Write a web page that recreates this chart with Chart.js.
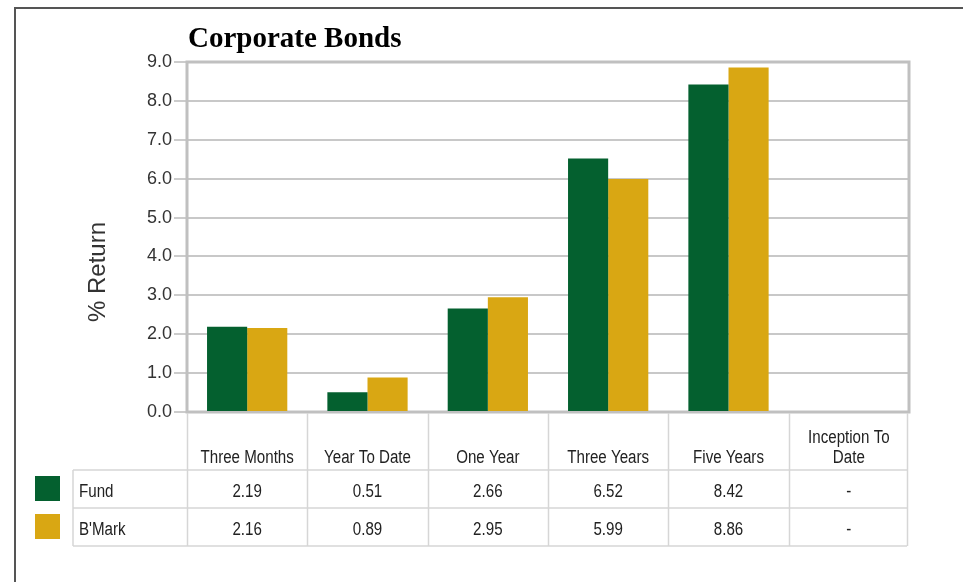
<!DOCTYPE html>
<html>
<head>
<meta charset="utf-8">
<title>Corporate Bonds</title>
<script src="https://cdn.jsdelivr.net/npm/chart.js@4"></script>
<style>
  html, body { margin: 0; padding: 0; background: #fff; }
  #wrap { position: relative; width: 963px; height: 582px; }
</style>
</head>
<body>
<div id="wrap"><canvas id="bondChart" width="963" height="582"></canvas></div>
<script>
const periods = ['Three Months', 'Year To Date', 'One Year', 'Three Years', 'Five Years', ['Inception To', 'Date']];
const fundReturns = [2.19, 0.51, 2.66, 6.52, 8.42, null];
const benchReturns = [2.16, 0.89, 2.95, 5.99, 8.86, null];
const seriesNames = ['Fund', "B'Mark"];
const yTicks = [0, 1, 2, 3, 4, 5, 6, 7, 8, 9];

const green = '#04602f';
const gold = '#d9a713';
const sans = "'Liberation Sans', Arial, sans-serif";

// condensed text: squeeze the regular face horizontally
function narrowText(c, text, x, y, align) {
    c.save();
    c.translate(x, y);
    c.scale(0.84, 1);
    c.textAlign = align;
    c.fillText(text, 0, 0);
    c.restore();
}

// outer frame, title, y title and the data table underneath the plot
const decor = {
    id: 'decor',
    beforeDraw(chart) {
        const c = chart.ctx;
        c.save();
        c.strokeStyle = '#555';
        c.lineWidth = 2;
        c.beginPath();
        c.moveTo(15, 582);
        c.lineTo(15, 8);
        c.lineTo(963, 8);
        c.stroke();
        c.restore();
    },
    beforeDatasetsDraw(chart) {
        const a = chart.chartArea;
        const c = chart.ctx;
        c.save();
        c.strokeStyle = '#c0c0c0';
        c.lineWidth = 3;
        c.strokeRect(a.left, a.top, a.right - a.left, a.bottom - a.top);
        c.restore();
    },
    afterDraw(chart) {
        const a = chart.chartArea;
        const x = chart.scales.x;
        const c = chart.ctx;
        const half = (a.right - a.left) / periods.length / 2;
        const headBottom = a.bottom + 58;
        const rowH = 38;
        const tableLeft = 73;
        const tableRight = x.getPixelForValue(periods.length - 1) + half - 2;

        c.save();
        // title
        c.fillStyle = '#000';
        c.font = "bold 29px 'Liberation Serif', 'Times New Roman', serif";
        c.textAlign = 'left';
        c.textBaseline = 'alphabetic';
        c.fillText('Corporate Bonds', a.left + 1, 47);

        // y axis title
        c.save();
        c.translate(105, 272);
        c.rotate(-Math.PI / 2);
        c.font = '24px ' + sans;
        c.fillStyle = '#333';
        c.textAlign = 'center';
        c.fillText('% Return', 0, 0);
        c.restore();

        // table grid
        c.strokeStyle = '#d6d6d6';
        c.lineWidth = 1.5;
        c.beginPath();
        for (let i = 0; i <= periods.length; i++) {
            const px = Math.min(Math.round(a.left + i * half * 2), tableRight) + 0.5;
            c.moveTo(px, a.bottom + 1);
            c.lineTo(px, headBottom + rowH * 2);
        }
        c.moveTo(tableLeft, headBottom);
        c.lineTo(tableLeft, headBottom + rowH * 2);
        for (let r = 0; r <= 2; r++) {
            c.moveTo(tableLeft, headBottom + rowH * r);
            c.lineTo(tableRight, headBottom + rowH * r);
        }
        c.stroke();

        // header labels
        c.fillStyle = '#222';
        c.font = '18px ' + sans;
        periods.forEach((p, i) => {
            const cx = x.getPixelForValue(i);
            const lines = Array.isArray(p) ? p : [p];
            lines.forEach((ln, j) => {
                narrowText(c, ln, cx, headBottom - 7 - (lines.length - 1 - j) * 20, 'center');
            });
        });

        // rows
        const rows = [fundReturns, benchReturns];
        const colors = [green, gold];
        rows.forEach((vals, r) => {
            const top = headBottom + rowH * r;
            c.fillStyle = colors[r];
            c.fillRect(35, top + 6, 25, 25);
            c.fillStyle = '#222';
            narrowText(c, seriesNames[r], 79, top + 27, 'left');
            vals.forEach((v, i) => {
                narrowText(c, v === null ? '-' : v.toFixed(2), x.getPixelForValue(i), top + 27, 'center');
            });
        });
        c.restore();
    }
};

new Chart(document.getElementById('bondChart'), {
    type: 'bar',
    data: {
        labels: periods,
        datasets: [
            { label: seriesNames[0], data: fundReturns, backgroundColor: green },
            { label: seriesNames[1], data: benchReturns, backgroundColor: gold }
        ]
    },
    options: {
        responsive: false,
        animation: false,
        events: [],
        layout: { padding: { left: 0, top: 62, right: 54, bottom: 170 } },
        datasets: { bar: { categoryPercentage: 0.667, barPercentage: 1.0 } },
        plugins: { legend: { display: false }, title: { display: false }, tooltip: { enabled: false } },
        scales: {
            x: { display: false },
            y: {
                min: 0,
                max: 9,
                afterFit(scale) { scale.width = 187; },
                afterBuildTicks(scale) { scale.ticks = yTicks.map(v => ({ value: v })); },
                ticks: {
                    callback: v => v.toFixed(1),
                    color: '#333',
                    padding: 2,
                    font: { family: sans, size: 18 }
                },
                grid: {
                    color: '#c8c8c8',
                    lineWidth: 2,
                    tickLength: 13,
                    tickWidth: 1,
                    tickColor: '#999'
                },
                border: { display: false }
            }
        }
    },
    plugins: [decor]
});
</script>
</body>
</html>
